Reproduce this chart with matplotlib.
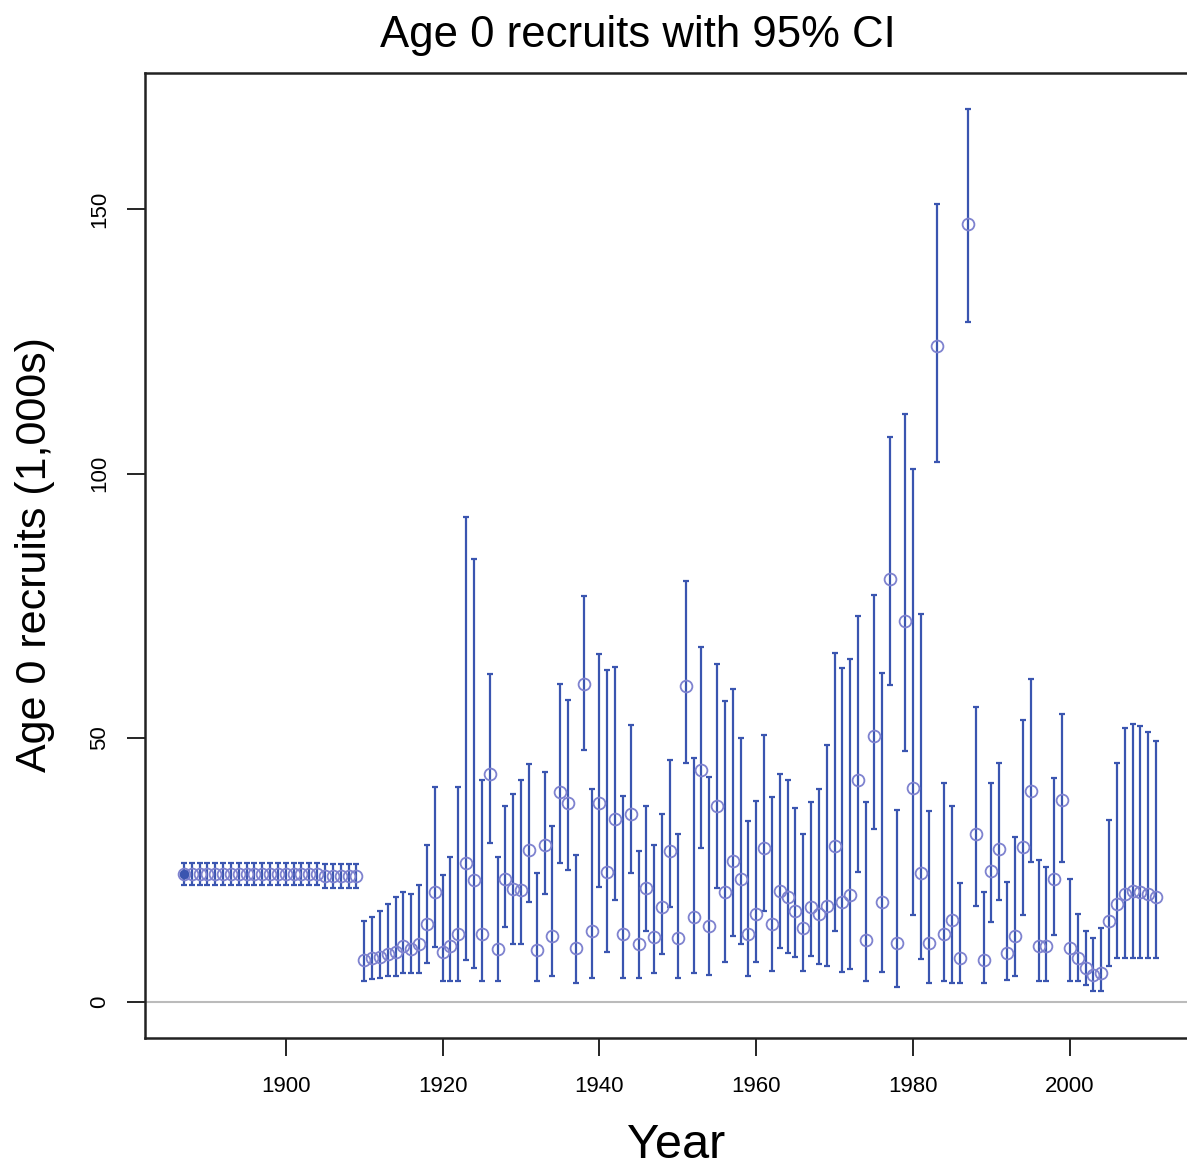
import numpy as np
import matplotlib
matplotlib.use("Agg")
import matplotlib.pyplot as plt

plt.rcParams['font.family'] = ['Liberation Sans', 'DejaVu Sans']

# estimates and 95% CI (1,000s), 1887-2011
years = list(range(1887, 2012))

recruits = [24.2, 24.2, 24.2, 24.2, 24.2, 24.2, 24.2, 24.2, 24.2, 24.2,
            24.2, 24.2, 24.2, 24.2, 24.2, 24.2, 24.2, 24.2, 23.8, 23.8,
            23.8, 23.8, 23.8,
            7.9, 8.3, 8.6, 9.2, 9.6, 10.7, 10.1, 11.1, 14.8, 20.8,
            9.6, 10.7, 13.0, 26.4, 23.1, 13.0, 43.1, 10.1, 23.3, 21.5,
            21.3, 28.8, 9.8, 29.7, 12.6, 39.8, 37.6, 10.2, 60.2, 13.5,
            37.6, 24.7, 34.7, 13.0, 35.7, 11.1, 21.7, 12.4, 18.1, 28.6,
            12.1, 59.9, 16.2, 44.0, 14.5, 37.1, 20.9, 26.8, 23.3, 13.0,
            16.7, 29.2, 14.8, 21.1, 19.9, 17.3, 14.0, 18.1, 16.7, 18.2,
            29.6, 18.9, 20.2, 42.1, 11.8, 50.4, 18.9, 80.0, 11.2, 72.1,
            40.6, 24.5, 11.2, 124.2, 12.9, 15.5, 8.4, 147.2, 31.8, 8.0,
            24.8, 28.9, 9.4, 12.6, 29.4, 40.0, 10.6, 10.6, 23.3, 38.3,
            10.3, 8.3, 6.5, 5.1, 5.5, 15.3, 18.6, 20.5, 21.0, 20.8,
            20.4, 19.9]

lower = [22.1, 22.1, 22.1, 22.1, 22.1, 22.1, 22.1, 22.1, 22.1, 22.1,
         22.1, 22.1, 22.1, 22.1, 22.1, 22.1, 22.1, 22.1, 21.7, 21.7,
         21.7, 21.7, 21.7,
         4.1, 4.4, 4.5, 4.9, 4.9, 5.5, 5.5, 5.5, 7.4, 10.4,
         4.1, 4.1, 4.1, 7.9, 6.4, 4.1, 30.1, 4.1, 14.2, 11.0,
         11.0, 18.9, 4.1, 20.4, 4.9, 26.4, 25.0, 3.6, 47.7, 4.5,
         21.8, 9.6, 19.4, 4.6, 24.5, 4.6, 13.5, 5.5, 9.1, 18.1,
         4.6, 45.3, 5.5, 29.1, 5.2, 21.7, 7.7, 12.5, 11.0, 5.0,
         7.7, 17.2, 6.0, 10.2, 9.4, 8.5, 6.0, 8.8, 7.2, 6.9,
         13.5, 5.8, 6.2, 24.7, 4.0, 32.7, 5.8, 60.0, 2.8, 47.6,
         16.5, 8.1, 3.6, 102.2, 4.0, 3.6, 3.6, 128.7, 18.3, 3.6,
         15.1, 19.3, 4.2, 5.0, 16.5, 26.5, 4.0, 4.0, 12.7, 26.5,
         4.0, 4.0, 3.2, 2.1, 2.1, 6.8, 8.3, 8.3, 8.3, 8.3,
         8.3, 8.3]

upper = [26.4, 26.4, 26.4, 26.4, 26.4, 26.4, 26.4, 26.4, 26.4, 26.4,
         26.4, 26.4, 26.4, 26.4, 26.4, 26.4, 26.4, 26.4, 26.1, 26.1,
         26.1, 26.1, 26.1,
         15.3, 16.2, 17.3, 18.5, 20.0, 20.9, 20.4, 22.2, 29.7, 40.8,
         24.0, 27.4, 40.8, 91.8, 83.8, 42.1, 62.1, 27.4, 37.1, 39.4,
         42.1, 45.0, 24.5, 43.5, 33.3, 60.2, 57.1, 27.9, 76.9, 40.4,
         65.9, 62.9, 63.5, 39.0, 52.4, 28.7, 37.1, 29.7, 35.7, 45.9,
         31.9, 79.7, 46.2, 67.2, 42.6, 64.0, 57.0, 59.3, 50.0, 34.3,
         38.1, 50.5, 38.9, 43.1, 42.1, 36.7, 31.9, 37.9, 40.4, 48.6,
         66.1, 63.3, 65.0, 73.1, 37.8, 77.1, 62.2, 107.0, 36.4, 111.2,
         100.9, 73.4, 36.2, 151.0, 41.5, 37.2, 22.5, 169.0, 55.8, 20.8,
         41.5, 45.2, 22.8, 31.2, 53.3, 61.1, 27.0, 25.6, 42.5, 54.6,
         23.3, 16.7, 13.5, 12.1, 14.0, 34.5, 45.3, 51.8, 52.7, 52.3,
         51.2, 49.4]

yrs = np.array(years)
est = np.array(recruits)
lo = np.array(lower)
hi = np.array(upper)

fig = plt.figure(figsize=(11.87, 11.71), dpi=100)
ax = fig.add_axes([145/1187, 133/1171, 1050/1187, 965/1171])

ax.axhline(0, color='#bbbbbb', lw=1.5, zorder=1)
ax.errorbar(yrs, est, yerr=[est - lo, hi - est], fmt='none',
            ecolor='#3a55b0', elinewidth=1.6, capsize=2.2, capthick=1.6, zorder=2)
ax.plot(yrs, est, 'o', mfc='none', mec='#7e82cf', mew=1.3, ms=8.5, zorder=3)
ax.plot(yrs[:1], est[:1], 'o', color='#3a55b0', ms=6, zorder=4)

ax.set_xlim(1882.04, 2015.96)
ax.set_ylim(-6.76, 175.76)
ax.set_xticks([1900, 1920, 1940, 1960, 1980, 2000])
ax.set_yticks([0, 50, 100, 150])
ax.tick_params(axis='x', length=13, width=1.2, pad=14, labelsize=16)
ax.tick_params(axis='y', length=13, width=1.2, pad=12, labelsize=16)
for lab in ax.get_yticklabels():
    lab.set_rotation(90)
    lab.set_va('center')
for sp in ax.spines.values():
    sp.set_linewidth(1.8)
    sp.set_color('#222222')

fig.text(638/1187, 1 - 35/1171, 'Age 0 recruits with 95% CI',
         ha='center', va='center', fontsize=31.5)
fig.text(676/1187, 1 - 1145/1171, 'Year', ha='center', va='center', fontsize=35)
fig.text(35/1187, 1 - 555/1171, 'Age 0 recruits (1,000s)', ha='center', va='center',
         rotation=90, fontsize=31)

fig.savefig('out.png', dpi=100)
